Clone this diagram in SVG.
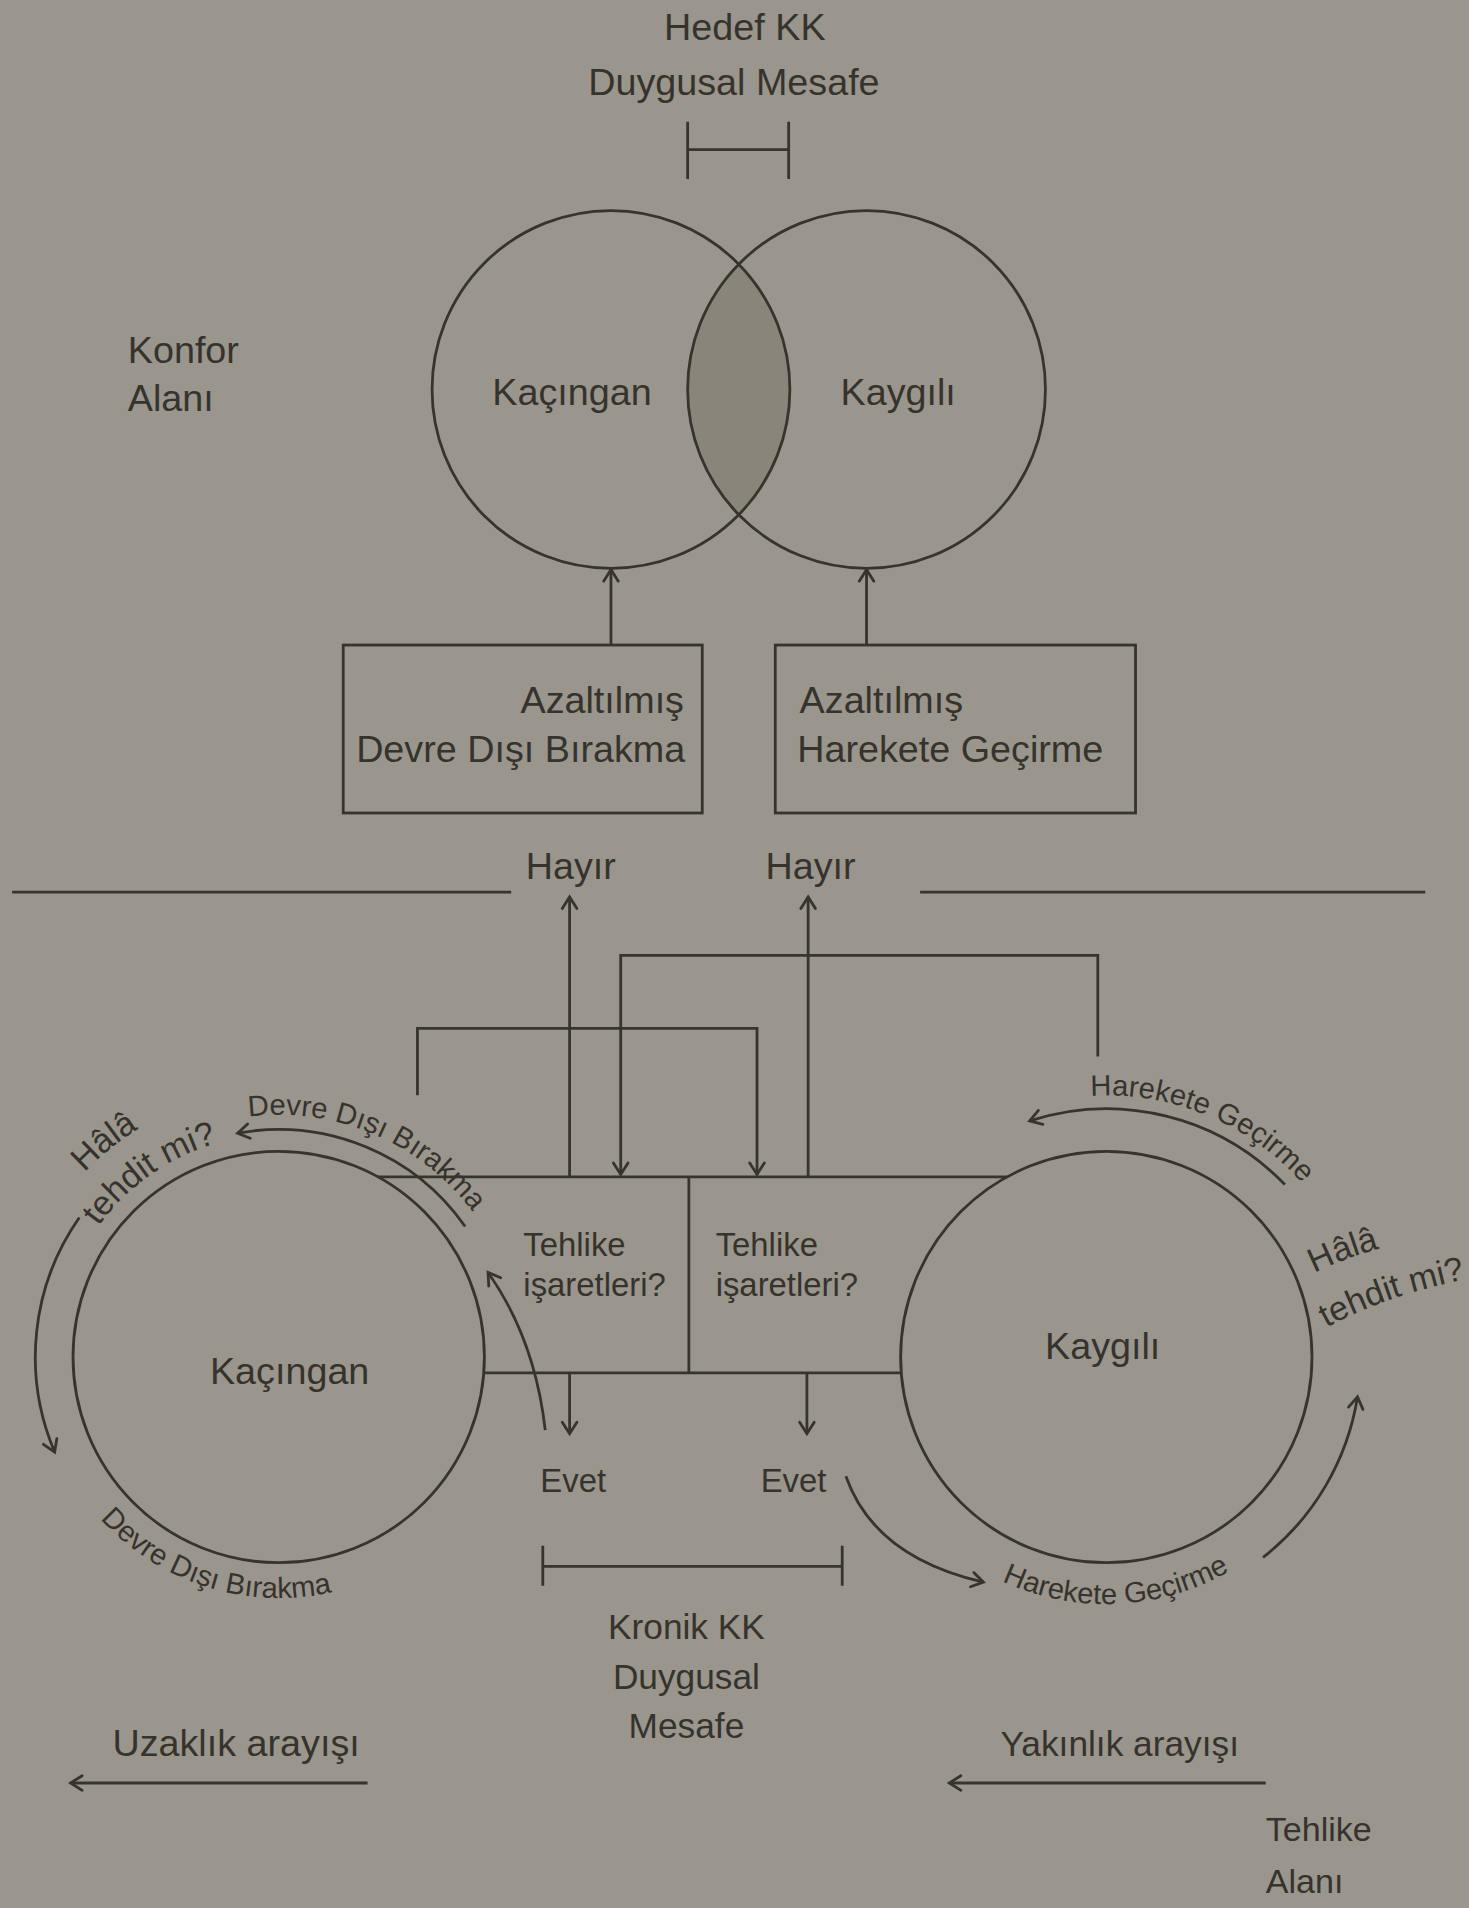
<svg xmlns="http://www.w3.org/2000/svg" width="1469" height="1908" viewBox="0 0 1469 1908">
<defs>
<style>
.ln{fill:none;stroke:#37342e;stroke-width:2.3}
.ar{fill:none;stroke:#37342e;stroke-width:2.3;marker-end:url(#arr)}
text{font-family:"Liberation Sans",Arial,sans-serif;fill:#36332d}
.m{font-size:31px}
.s{font-size:27px}
.k{font-size:29px}
.c{font-size:24px}
.h{font-size:28px}
.mid{text-anchor:middle}
.end{text-anchor:end}
</style>
<marker id="arr" viewBox="0 0 12 14" refX="10.5" refY="7" markerWidth="12" markerHeight="14" orient="auto" markerUnits="userSpaceOnUse" overflow="visible">
<path d="M1,1 L10.5,7 L1,13" fill="none" stroke="#37342e" stroke-width="2.3" stroke-linecap="round"/>
</marker>
<path id="pDLtop" d="M160.9,928 A199,199 0 0 1 410.8,1034.1"/>
<path id="pTMl" d="M52.2,1067.6 A183,183 0 0 1 244.9,932.7"/>
<path id="pHAl" d="M13,1073 A220,220 0 0 1 232.8,895"/>
<path id="pDLbot" d="M43,1182.7 A198,198 0 0 0 342.6,1277.2"/>
<path id="pHGtop" d="M835.5,913 A215,215 0 0 1 1103.9,1024.1"/>
<path id="pHGbot" d="M753.5,1245.5 A203,203 0 0 0 1075.3,1231.4"/>
<path id="pHAr" d="M1080,1046 Q1106,1033 1140,1024"/>
<path id="pTMr" d="M1090,1091 Q1140,1063 1215,1049"/>
</defs>
<rect width="1469" height="1908" fill="#9a968d"/>
<g transform="scale(1.21707)">

<g id="target-distance">
<text class="m mid" x="612" y="33">Hedef KK</text>
<text class="m mid" x="603" y="78">Duygusal Mesafe</text>
<path class="ln" d="M565,100 V147 M648,100 V147 M565,123 H648"/>
</g>

<g id="comfort-zone-label">
<text class="m" x="105" y="298">Konfor</text>
<text class="m" x="105" y="338">Alanı</text>
</g>

<g id="overlap">
<path d="M607,217.1 A147,147 0 0 1 607,422.9 A147,147 0 0 1 607,217.1 Z" fill="#89857b"/>
</g>

<g id="top-avoidant">
<circle class="ln" cx="502" cy="320" r="147"/>
<text class="m mid" x="470" y="333">Kaçıngan</text>
</g>

<g id="top-anxious">
<circle class="ln" cx="712" cy="320" r="147"/>
<text class="m mid" x="738" y="333">Kaygılı</text>
</g>

<g id="box-deactivation">
<rect class="ln" x="282" y="530" width="295" height="138"/>
<text class="m end" x="562" y="586">Azaltılmış</text>
<text class="m end" x="563" y="626">Devre Dışı Bırakma</text>
</g>

<g id="box-activation">
<rect class="ln" x="637" y="530" width="296" height="138"/>
<text class="m" x="657" y="586">Azaltılmış</text>
<text class="m" x="655" y="626">Harekete Geçirme</text>
</g>

<g id="divider">
<path class="ln" d="M10,733 H420 M756,733 H1171"/>
<text class="m mid" x="469" y="722">Hayır</text>
<text class="m mid" x="666" y="722">Hayır</text>
</g>

<g id="danger-signals">
<path class="ln" d="M310.6,967 H827.4 M397.5,1128 H740.5 M566,967 V1128"/>
<text class="s" x="430" y="1032">Tehlike</text>
<text class="s" x="430" y="1065">işaretleri?</text>
<text class="s" x="588" y="1032">Tehlike</text>
<text class="s" x="588" y="1065">işaretleri?</text>
</g>

<g id="bottom-avoidant">
<circle class="ln" cx="229" cy="1115" r="169"/>
<text class="m mid" x="238" y="1137">Kaçıngan</text>
</g>

<g id="bottom-anxious">
<circle class="ln" cx="909" cy="1115" r="169"/>
<text class="m mid" x="906" y="1117">Kaygılı</text>
</g>

<g id="yes-labels">
<text class="s mid" x="471" y="1226">Evet</text>
<text class="s mid" x="652" y="1226">Evet</text>
</g>

<g id="chronic-distance">
<path class="ln" d="M446,1270 V1303 M692,1270 V1303 M446,1287 H692"/>
<text class="k mid" x="564" y="1347">Kronik KK</text>
<text class="k mid" x="564" y="1388">Duygusal</text>
<text class="k mid" x="564" y="1428">Mesafe</text>
</g>

<g id="seeking-labels">
<text class="m mid" x="194" y="1443">Uzaklık arayışı</text>
<text class="k mid" x="920" y="1443">Yakınlık arayışı</text>
<text class="h" x="1040" y="1513">Tehlike</text>
<text class="h" x="1040" y="1555">Alanı</text>
</g>

<g id="curved-labels">
<text class="c"><textPath href="#pDLtop" startOffset="50%" text-anchor="middle">Devre Dışı Bırakma</textPath></text>
<text class="h"><textPath href="#pHAl" startOffset="50%" text-anchor="middle">Hâlâ</textPath></text>
<text class="h"><textPath href="#pTMl" startOffset="50%" text-anchor="middle">tehdit mi?</textPath></text>
<text class="c"><textPath href="#pDLbot" startOffset="50%" text-anchor="middle">Devre Dışı Bırakma</textPath></text>
<text class="c"><textPath href="#pHGtop" startOffset="50%" text-anchor="middle">Harekete Geçirme</textPath></text>
<text class="c"><textPath href="#pHGbot" startOffset="50%" text-anchor="middle">Harekete Geçirme</textPath></text>
<text class="h"><textPath href="#pHAr">Hâlâ</textPath></text>
<text class="h"><textPath href="#pTMr">tehdit mi?</textPath></text>
</g>

<g id="connectors">
<path class="ar" d="M502,530 V468"/>
<path class="ar" d="M712,530 V468"/>
<path class="ar" d="M468,967 V737"/>
<path class="ar" d="M664,967 V737"/>
<path class="ar" d="M902,868 V785 H510 V965"/>
<path class="ar" d="M343,900 V845 H622 V965"/>
<path class="ar" d="M468,1128 V1178"/>
<path class="ar" d="M663,1128 V1178"/>
<path class="ar" d="M302,1465 H58"/>
<path class="ar" d="M1040,1465 H780"/>
<path class="ar" d="M382.2,1007.7 A187,187 0 0 0 195.2,931.1"/>
<path class="ar" d="M65.2,1000.3 A200,200 0 0 0 44.9,1193.1"/>
<path class="ar" d="M1055.7,973.3 A204,204 0 0 0 846,921"/>
<path class="ar" d="M1037.7,1279.7 A209,209 0 0 0 1115.4,1147.7"/>
<path class="ar" d="M448,1175 Q439.5,1100 401,1045.5"/>
<path class="ar" d="M695,1213 Q718.5,1279.5 808,1300"/>
</g>

</g>
</svg>
